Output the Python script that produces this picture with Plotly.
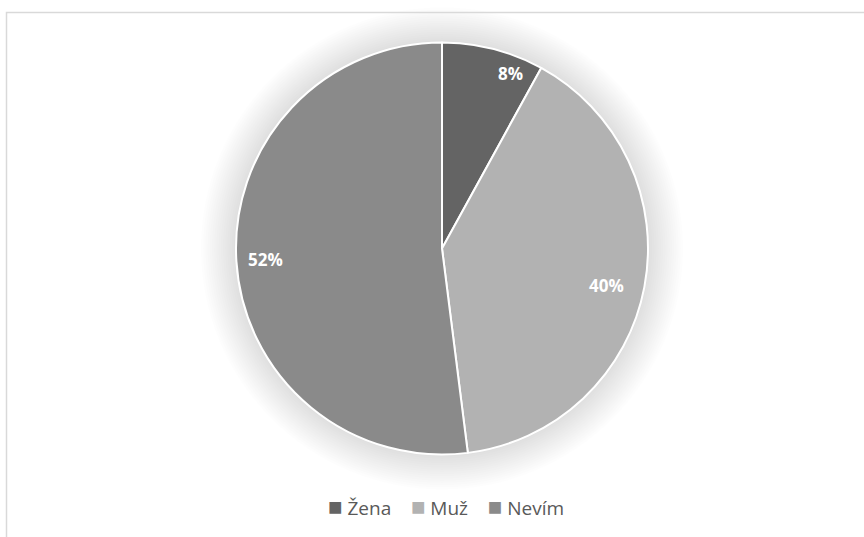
import math
import plotly.graph_objects as go

# Response shares (percent)
labels = ["Žena", "Muž", "Nevím"]
values = [8, 40, 52]
colors = ["#646464", "#b2b2b2", "#8a8a8a"]
# radial placement of the value labels (fraction of radius) and small angular nudge (deg)
label_radius = [0.91, 0.82, 0.86]
label_nudge = [7, 2, 0]

W, H = 864, 537
cx, cy, r = 442, 248.5, 206  # pie centre / radius in px
FONT = "Open Sans, Liberation Sans, sans-serif"

fig = go.Figure(
    go.Pie(
        labels=labels,
        values=values,
        sort=False,
        direction="clockwise",
        rotation=0,
        marker=dict(colors=colors, line=dict(color="white", width=2)),
        textinfo="none",
        hoverinfo="label+percent",
        showlegend=False,
        domain=dict(x=[(cx - r) / W, (cx + r) / W],
                    y=[(H - cy - r) / H, (H - cy + r) / H]),
    )
)

# soft glow behind the pie
shapes = []
steps = 16
for i in range(steps, 0, -1):
    rr = r + i * 2.2
    shapes.append(dict(
        type="circle", xref="paper", yref="paper", layer="below",
        x0=(cx - rr) / W, x1=(cx + rr) / W,
        y0=(H - cy - rr) / H, y1=(H - cy + rr) / H,
        fillcolor="rgba(0,0,0,0.0085)", line=dict(width=0),
    ))
# chart frame
shapes.append(dict(
    type="rect", xref="paper", yref="paper", layer="below",
    x0=6.5 / W, y1=1 - 12.5 / H, x1=1.2, y0=-0.2,
    line=dict(color="#d9d9d9", width=1.5), fillcolor="rgba(0,0,0,0)",
))

# percentage labels placed from the slice mid-angles
annotations = []
total = sum(values)
acc = 0
for v, rf, nd in zip(values, label_radius, label_nudge):
    mid = (acc + v / 2) / total * 360 + nd
    acc += v
    px = cx + rf * r * math.sin(math.radians(mid))
    py = cy - rf * r * math.cos(math.radians(mid))
    annotations.append(dict(
        x=px / W, y=1 - py / H, xref="paper", yref="paper",
        xanchor="center", yanchor="middle",
        text=f"<b>{round(v / total * 100)}%</b>", showarrow=False,
        font=dict(family=FONT, size=17, color="white"),
    ))

# legend row: coloured square + category name
sep = "\u00a0" * 4
legend_text = sep.join(
    f"<span style='color:{c};font-size:24px'>■</span>\u00a0{lab}"
    for lab, c in zip(labels, colors)
)
annotations.append(dict(
    x=446 / W, y=1 - 505 / H, xref="paper", yref="paper",
    xanchor="center", yanchor="middle", showarrow=False,
    text=legend_text,
    font=dict(family=FONT, size=19, color="#595959"),
))

fig.update_layout(
    width=W, height=H,
    margin=dict(l=0, r=0, t=0, b=0),
    paper_bgcolor="white",
    plot_bgcolor="white",
    shapes=shapes,
    annotations=annotations,
    showlegend=False,
)

fig.write_html("out.html")
